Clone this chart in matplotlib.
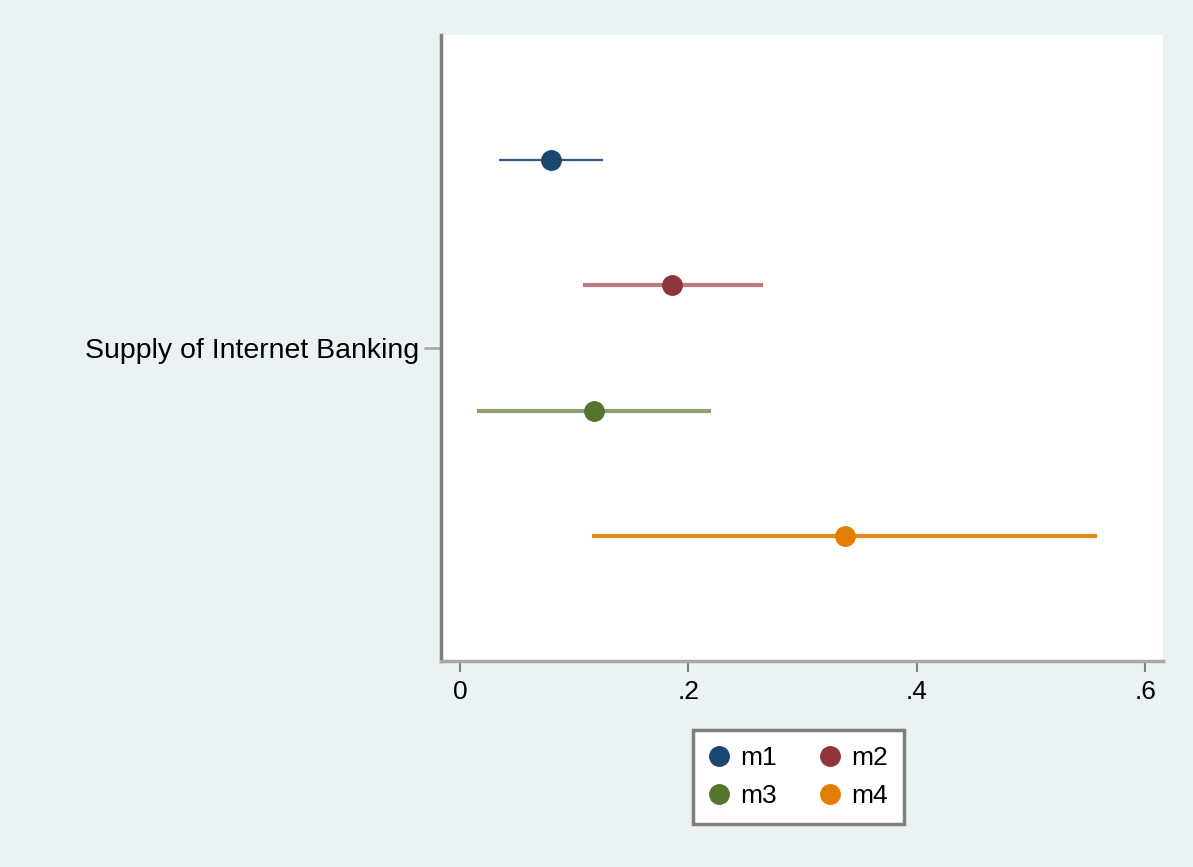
import matplotlib.pyplot as plt
from matplotlib.lines import Line2D

# coefficient estimates and 95% intervals for each model
models = ["m1", "m2", "m3", "m4"]
coefs = [0.080, 0.186, 0.117, 0.337]
ci_low = [0.034, 0.108, 0.015, 0.116]
ci_high = [0.125, 0.265, 0.220, 0.558]
offsets = [-0.3, -0.1, 0.1, 0.3]
term = "Supply of Internet Banking"
xticks = [0, 0.2, 0.4, 0.6]
xticklabels = ["0", ".2", ".4", ".6"]

marker_colors = ["#1a476f", "#90353b", "#55752f", "#e37e00"]
line_colors = ["#2f5a80", "#bd7a7f", "#8fa172", "#e68a1a"]
line_widths = [1.6, 3.0, 3.0, 3.0]

plt.rcParams["font.family"] = ["Liberation Sans", "DejaVu Sans"]

fig = plt.figure(figsize=(11.93, 8.67), dpi=100, facecolor="#eaf2f3")
ax = fig.add_axes([441 / 1193, 1 - 661 / 867, (1163 - 441) / 1193, (661 - 35) / 867])
ax.set_facecolor("white")

for i in range(len(models)):
    ax.plot([ci_low[i], ci_high[i]], [offsets[i], offsets[i]],
            color=line_colors[i], lw=line_widths[i], solid_capstyle="butt", zorder=2)
    ax.plot(coefs[i], offsets[i], "o", ms=14, color=marker_colors[i],
            mec=marker_colors[i], zorder=3)

ax.set_xlim(-0.0166, 0.6155)
ax.set_ylim(0.5, -0.5)
ax.set_xticks(xticks)
ax.set_xticklabels(xticklabels, fontsize=19)
ax.set_yticks([0])
ax.set_yticklabels([term], fontsize=20.5)

ax.spines["top"].set_visible(False)
ax.spines["right"].set_visible(False)
ax.spines["left"].set_color("#7f7f7f")
ax.spines["left"].set_linewidth(2.5)
ax.spines["bottom"].set_color("#a8a8a8")
ax.spines["bottom"].set_linewidth(2.5)
ax.tick_params(axis="x", length=8, width=1.5, color="#7f7f7f", pad=6)
ax.tick_params(axis="y", length=12, width=2, color="#a8a8a8", pad=4)

# legend filled row by row: m1 m2 / m3 m4
order = [0, 2, 1, 3]
handles = [Line2D([], [], ls="none", marker="o", ms=14, color=marker_colors[k]) for k in order]
labels = [models[k] for k in order]
leg = fig.legend(handles, labels, ncol=2, fontsize=19, loc="upper left",
                 bbox_to_anchor=(693 / 1193, 1 - 730 / 867), borderaxespad=0,
                 frameon=True, fancybox=False, framealpha=1, facecolor="white",
                 edgecolor="#7f7f7f", handletextpad=0.4, columnspacing=1.6,
                 borderpad=0.6, labelspacing=0.55, handlelength=0.8)
leg.get_frame().set_linewidth(2.5)

fig.savefig("out.png", dpi=100, facecolor=fig.get_facecolor())
